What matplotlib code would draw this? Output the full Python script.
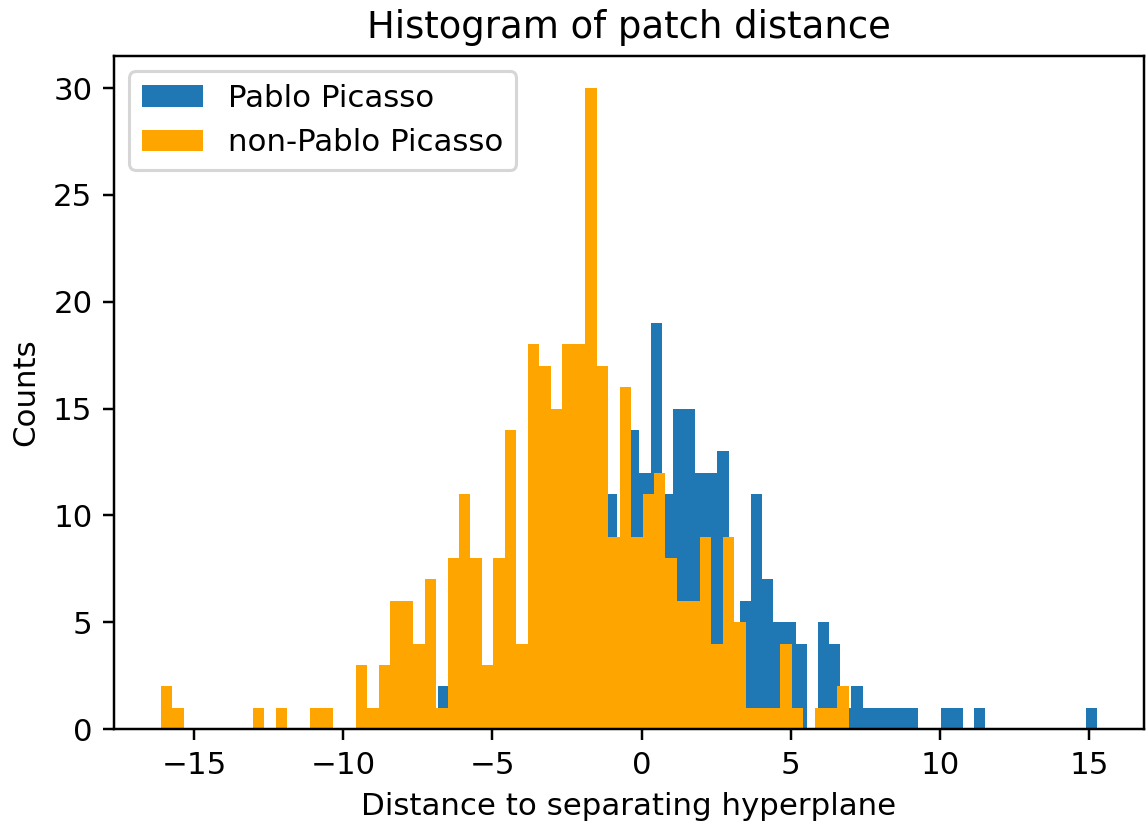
import numpy as np
import matplotlib
matplotlib.use("Agg")
import matplotlib.pyplot as plt

# bin ranges (60 bins each, as plt.hist draws them)
picasso_range = (-7.18, 15.26)
other_range = (-16.11, 6.95)
n_bins = 60

# counts per bin
picasso_counts = [1, 2, 1, 1, 3, 2, 2, 3, 3, 3,
                  3, 4, 7, 3, 9, 13, 11, 8, 14, 12,
                  19, 11, 15, 15, 12, 12, 13, 4, 6, 11,
                  7, 5, 5, 4, 0, 5, 4, 1, 2, 1,
                  1, 1, 1, 1, 0, 0, 1, 1, 0, 1,
                  0, 0, 0, 0, 0, 0, 0, 0, 0, 1]
other_counts = [2, 1, 0, 0, 0, 0, 0, 0, 1, 0,
                1, 0, 0, 1, 1, 0, 0, 3, 1, 3,
                6, 6, 4, 7, 1, 8, 11, 8, 3, 8,
                14, 4, 18, 17, 15, 18, 18, 30, 17, 9,
                16, 9, 11, 12, 8, 6, 6, 9, 4, 9,
                5, 1, 1, 1, 4, 1, 0, 1, 1, 2]

labels = ["Pablo Picasso", "non-Pablo Picasso"]

edges_p = np.linspace(picasso_range[0], picasso_range[1], n_bins + 1)
edges_o = np.linspace(other_range[0], other_range[1], n_bins + 1)
centers_p = (edges_p[:-1] + edges_p[1:]) / 2
centers_o = (edges_o[:-1] + edges_o[1:]) / 2

dpi = 222
fig = plt.figure(figsize=(1146 / dpi, 826 / dpi), dpi=dpi)
ax = fig.add_axes([0.0995, 0.1174, 0.8985, 0.8148])

ax.hist(centers_p, bins=edges_p, weights=picasso_counts, color="#1f77b4", label=labels[0])
ax.hist(centers_o, bins=edges_o, weights=other_counts, color="orange", label=labels[1])

ax.set_title("Histogram of patch distance")
ax.set_xlabel("Distance to separating hyperplane")
ax.set_ylabel("Counts")
ax.legend(loc="upper left")

fig.savefig("out.png", dpi=dpi)
